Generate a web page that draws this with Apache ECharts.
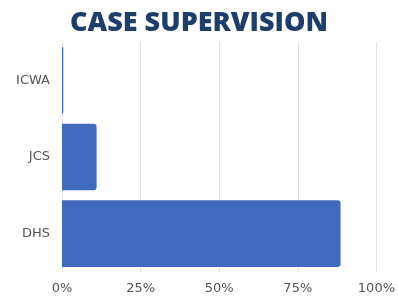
<!DOCTYPE html>
<html>
<head>
<meta charset="utf-8">
<script src="https://cdn.jsdelivr.net/npm/echarts@6/dist/echarts.min.js"></script>
<style>
html, body { margin: 0; padding: 0; background: #fff; }
#main { width: 398px; height: 299px; }
</style>
</head>
<body>
<div id="main"></div>
<script>
var categories = ['DHS', 'JCS', 'ICWA'];
var shares = [0.886, 0.11, 0.004];

var myChart = echarts.init(document.getElementById('main'));

var option = {
    animation: false,
    title: {
        text: 'CASE SUPERVISION',
        left: 'center',
        top: 5,
        textStyle: {
            fontFamily: 'Open Sans',
            fontWeight: 800,
            fontSize: 27,
            color: '#1d3d6b'
        }
    },
    grid: {
        left: 62,
        right: 20,
        top: 42,
        bottom: 27
    },
    xAxis: {
        type: 'value',
        min: 0,
        max: 1,
        interval: 0.25,
        axisLine: { show: false },
        axisTick: { show: false },
        splitLine: { lineStyle: { color: '#e4e4e4', width: 1 } },
        axisLabel: {
            color: '#555',
            fontSize: 13,
            fontFamily: 'DejaVu Sans',
            margin: 10,
            formatter: function (v) { return Math.round(v * 100) + '%'; }
        }
    },
    yAxis: {
        type: 'category',
        data: categories,
        axisLine: { show: true, lineStyle: { color: '#e4e4e4' } },
        axisTick: { show: false },
        axisLabel: {
            color: '#555',
            fontSize: 13,
            fontFamily: 'DejaVu Sans',
            margin: 12
        }
    },
    series: [{
        type: 'bar',
        data: shares,
        barCategoryGap: '13%',
        itemStyle: {
            color: '#4169be',
            borderRadius: [0, 3, 3, 0]
        }
    }]
};

myChart.setOption(option);
</script>
</body>
</html>
